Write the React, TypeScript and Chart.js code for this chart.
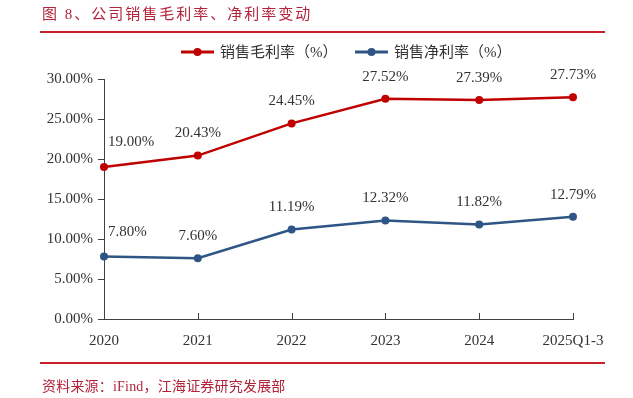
import React, { useEffect, useRef } from "react";
import { Chart, registerables } from "chart.js";
Chart.register(...registerables);

const categories = ["2020", "2021", "2022", "2023", "2024", "2025Q1-3"];
const grossMargin = [19.0, 20.43, 24.45, 27.52, 27.39, 27.73];
const netMargin = [7.8, 7.6, 11.19, 12.32, 11.82, 12.79];
const seriesNames = ["销售毛利率（%）", "销售净利率（%）"];
const yMin = 0;
const yMax = 30;
const yStep = 5;
const titleText = "图 8、公司销售毛利率、净利率变动";
const sourceText = "资料来源：iFind，江海证券研究发展部";

const RED = "#C00000";
const BLUE = "#2E5585";
const ACCENT = "#B3233A";
const TEXT = "#333333";
const FONT = '"Liberation Serif", "Noto Sans CJK SC", serif';

const labelPlugin = {
  id: "valueLabels",
  afterDatasetsDraw(chart: any) {
    const ctx = chart.ctx;
    ctx.save();
    ctx.font = `15px ${FONT}`;
    ctx.fillStyle = TEXT;
    ctx.textBaseline = "middle";
    chart.data.datasets.forEach((ds: any, di: number) => {
      const meta = chart.getDatasetMeta(di);
      meta.data.forEach((pt: any, i: number) => {
        const txt = Number(ds.data[i]).toFixed(2) + "%";
        if (i === 0) {
          ctx.textAlign = "left";
          ctx.fillText(txt, pt.x + 4, pt.y - 25);
        } else {
          ctx.textAlign = "center";
          ctx.fillText(txt, pt.x, pt.y - 22);
        }
      });
    });
    ctx.restore();
  },
};

const xTickPlugin = {
  id: "xInnerTicks",
  afterDraw(chart: any) {
    const ctx = chart.ctx;
    const xs = chart.scales.x;
    const bottom = chart.chartArea.bottom;
    ctx.save();
    ctx.strokeStyle = "#404040";
    ctx.lineWidth = 1;
    for (let i = 1; i < categories.length; i++) {
      const x = Math.round(xs.getPixelForValue(i)) + 0.5;
      ctx.beginPath();
      ctx.moveTo(x, bottom);
      ctx.lineTo(x, bottom - 6);
      ctx.stroke();
    }
    ctx.restore();
  },
};

const legendPlugin = {
  id: "lineLegend",
  afterDraw(chart: any) {
    const ctx = chart.ctx;
    const starts = [181, 355];
    const y = 52;
    ctx.save();
    ctx.font = `15px ${FONT}`;
    ctx.textBaseline = "middle";
    ctx.textAlign = "left";
    chart.data.datasets.forEach((ds: any, i: number) => {
      const x0 = starts[i];
      ctx.strokeStyle = ds.borderColor;
      ctx.lineWidth = 3;
      ctx.beginPath();
      ctx.moveTo(x0, y);
      ctx.lineTo(x0 + 33, y);
      ctx.stroke();
      ctx.fillStyle = ds.borderColor;
      ctx.beginPath();
      ctx.arc(x0 + 16.5, y, 4, 0, Math.PI * 2);
      ctx.fill();
      ctx.fillStyle = TEXT;
      ctx.fillText(ds.label, x0 + 39, y + 1);
    });
    ctx.restore();
  },
};

export default function App() {
  const ref = useRef<HTMLCanvasElement>(null);
  useEffect(() => {
    if (!ref.current) return;
    const chart = new Chart(ref.current, {
      type: "line",
      data: {
        labels: categories,
        datasets: [
          {
            label: seriesNames[0],
            data: grossMargin,
            borderColor: RED,
            backgroundColor: RED,
            borderWidth: 2.5,
            pointRadius: 4,
            pointBackgroundColor: RED,
            pointBorderWidth: 0,
            tension: 0,
          },
          {
            label: seriesNames[1],
            data: netMargin,
            borderColor: BLUE,
            backgroundColor: BLUE,
            borderWidth: 2.5,
            pointRadius: 4,
            pointBackgroundColor: BLUE,
            pointBorderWidth: 0,
            tension: 0,
          },
        ],
      },
      options: {
        responsive: false,
        animation: false,
        devicePixelRatio: 1,
        layout: { padding: { left: 0, right: 60, top: 79, bottom: 0 } },
        plugins: {
          legend: { display: false },
          tooltip: { enabled: false },
          title: { display: false },
        },
        scales: {
          x: {
            type: "category",
            offset: false,
            grid: { drawOnChartArea: false, drawTicks: false },
            border: { display: true, color: "#404040", width: 1 },
            ticks: {
              color: TEXT,
              font: { family: FONT, size: 15 },
              padding: 13,
              maxRotation: 0,
              autoSkip: false,
            },
            afterFit(scale: any) {
              scale.height = 79;
            },
          },
          y: {
            min: yMin,
            max: yMax,
            grid: { drawOnChartArea: false, drawTicks: true, tickLength: 6, color: "#404040" },
            border: { display: true, color: "#404040", width: 1 },
            ticks: {
              stepSize: yStep,
              color: TEXT,
              font: { family: FONT, size: 15 },
              padding: 5,
              callback: (v: any) => Number(v).toFixed(2) + "%",
            },
            afterFit(scale: any) {
              scale.width = 104;
            },
          },
        },
      },
      plugins: [labelPlugin, xTickPlugin, legendPlugin],
    });
    return () => chart.destroy();
  }, []);

  return (
    <div style={{ position: "absolute", left: 0, top: 0, width: 633, height: 398, background: "#fff" }}>
      <canvas ref={ref} width={633} height={398} style={{ position: "absolute", left: 0, top: 0 }} />
      <div
        style={{
          position: "absolute",
          left: 42,
          top: 6,
          fontFamily: FONT,
          fontSize: 15,
          lineHeight: "16px",
          letterSpacing: "2px",
          color: ACCENT,
          whiteSpace: "nowrap",
        }}
      >
        {titleText}
      </div>
      <div style={{ position: "absolute", left: 40, top: 31, width: 565, height: 1.5, background: "#C8202A" }} />
      <div style={{ position: "absolute", left: 40, top: 362, width: 565, height: 1.5, background: "#C8202A" }} />
      <div
        style={{
          position: "absolute",
          left: 42,
          top: 379,
          fontFamily: FONT,
          fontSize: 14,
          lineHeight: "16px",
          letterSpacing: "0.2px",
          color: ACCENT,
          whiteSpace: "nowrap",
        }}
      >
        {sourceText}
      </div>
    </div>
  );
}
